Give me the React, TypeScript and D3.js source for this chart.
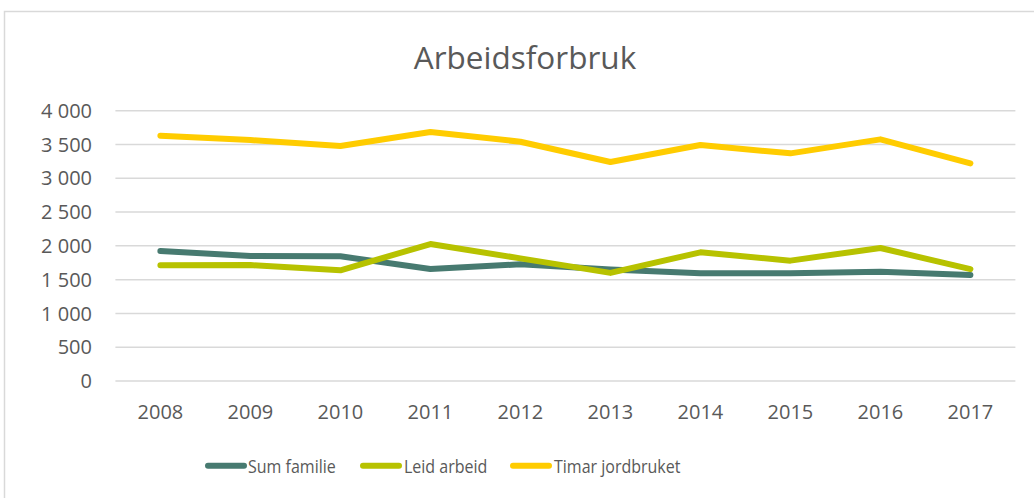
import React from "react";
import * as d3 from "d3";

const years = ["2008", "2009", "2010", "2011", "2012", "2013", "2014", "2015", "2016", "2017"];
const sumFamilie = [1924, 1850, 1845, 1658, 1728, 1650, 1595, 1595, 1617, 1570];
const leidArbeid = [1712, 1715, 1638, 2027, 1815, 1600, 1904, 1781, 1968, 1655];
const timarJordbruket = [3630, 3566, 3477, 3685, 3541, 3241, 3492, 3369, 3576, 3221];
const yTicks = [0, 500, 1000, 1500, 2000, 2500, 3000, 3500, 4000];

const seriesNames = ["Sum familie", "Leid arbeid", "Timar jordbruket"];
const seriesColors = ["#477A70", "#B7C200", "#FFCC00"];
const seriesData = [sumFamilie, leidArbeid, timarJordbruket];

const W = 1034;
const H = 498;
const plot = { left: 115.4, right: 1015.4, top: 110.7, bottom: 381 };
const FONT = "'Open Sans', sans-serif";
const TEXT = "#595959";

export default function App() {
  const x = d3.scaleBand<string>().domain(years).range([plot.left, plot.right]);
  const y = d3.scaleLinear().domain([0, 4000]).range([plot.bottom, plot.top]);
  const fmt = (v: number) => d3.format(",")(v).replace(/,/g, " ");
  const line = d3
    .line<number>()
    .x((_, i) => (x(years[i]) as number) + x.bandwidth() / 2)
    .y((d) => y(d));

  const legendItems = [
    { lineX: 208, textX: 248 },
    { lineX: 363, textX: 404 },
    { lineX: 513, textX: 554 },
  ];

  return (
    <svg
      width={W}
      height={H}
      style={{ position: "absolute", left: 0, top: 0, background: "#fff" }}
      fontFamily={FONT}
    >
      <rect x={4.5} y={11.5} width={W + 10} height={H + 10} fill="#fff" stroke="#D9D9D9" strokeWidth={1.5} />
      <text x={525} y={69} textAnchor="middle" fontSize={31.5} fill={TEXT}>
        Arbeidsforbruk
      </text>
      {yTicks.map((t) => (
        <g key={t}>
          <line x1={plot.left} x2={plot.right} y1={y(t)} y2={y(t)} stroke="#D9D9D9" strokeWidth={1.5} />
          <text x={92} y={y(t)} dy="0.36em" textAnchor="end" fontSize={20} fill={TEXT}>
            {fmt(t)}
          </text>
        </g>
      ))}
      {years.map((yr) => (
        <text
          key={yr}
          x={(x(yr) as number) + x.bandwidth() / 2}
          y={419}
          textAnchor="middle"
          fontSize={20}
          fill={TEXT}
        >
          {yr}
        </text>
      ))}
      {seriesData.map((s, i) => (
        <path
          key={seriesNames[i]}
          d={line(s) || ""}
          fill="none"
          stroke={seriesColors[i]}
          strokeWidth={6}
          strokeLinejoin="round"
          strokeLinecap="round"
        />
      ))}
      {seriesNames.map((n, i) => (
        <g key={n}>
          <line
            x1={legendItems[i].lineX}
            x2={legendItems[i].lineX + 36}
            y1={465.7}
            y2={465.7}
            stroke={seriesColors[i]}
            strokeWidth={6}
            strokeLinecap="round"
          />
          <text
            transform={`translate(${legendItems[i].textX},472.5) scale(0.89,1)`}
            fontSize={18}
            fill={TEXT}
          >
            {n}
          </text>
        </g>
      ))}
    </svg>
  );
}
